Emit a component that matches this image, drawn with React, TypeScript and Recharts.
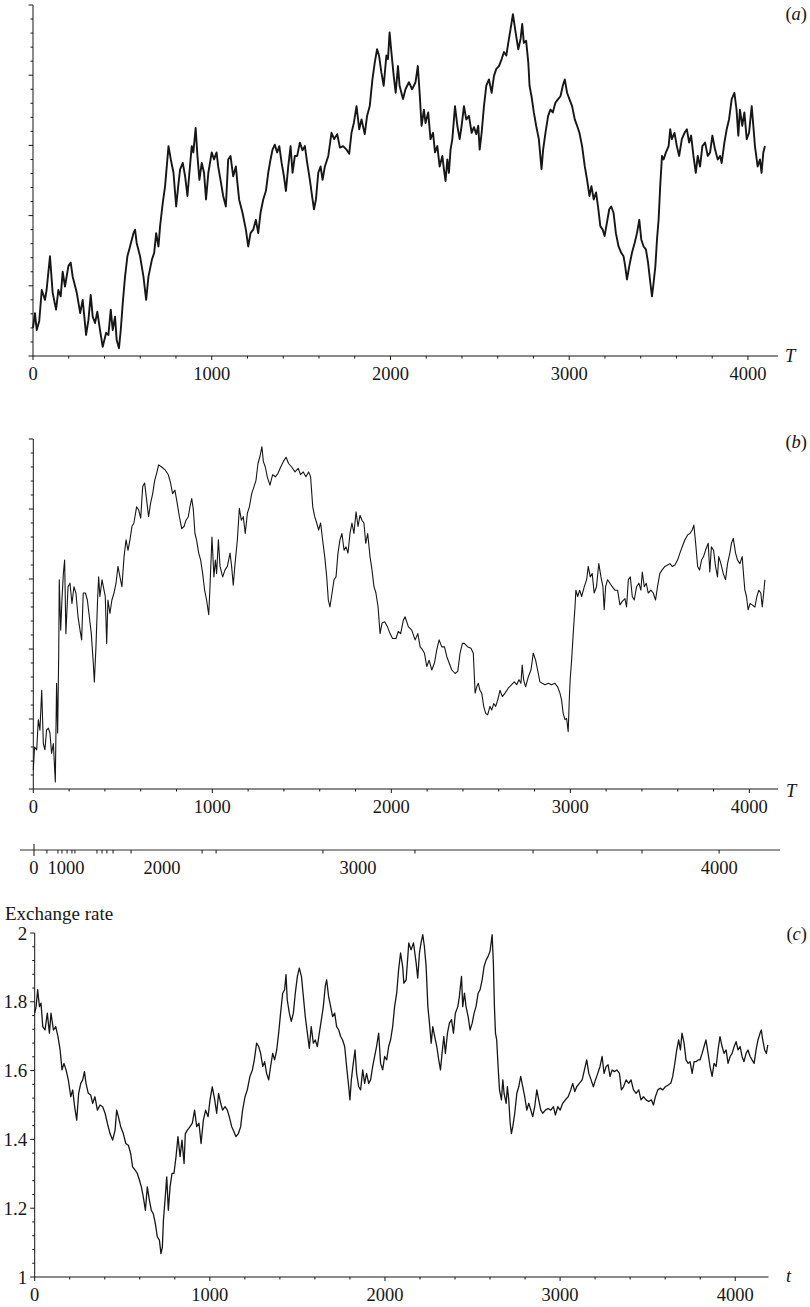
import React from "react";
import { Line, LineChart, XAxis, YAxis } from "recharts";

const SERIF = "'Liberation Serif', 'Times New Roman', serif";
const INK = "#161616";

// (a) time index T and simulated value (no y scale labels in the source, units of major ticks)
const tA = [
  0, 11, 21, 35, 49, 67, 76, 95, 110, 129,
  142, 155, 166, 179, 198, 211, 222, 245, 264, 278,
  297, 310, 323, 334, 347, 360, 375, 390, 409, 422,
  435, 446, 459, 468, 481, 491, 502, 515, 528, 543,
  562, 571, 580, 599, 618, 633, 646, 665, 678, 689,
  702, 711, 726, 739, 758, 771, 786, 801, 814, 823,
  838, 851, 864, 875, 888, 897, 910, 920, 931, 944,
  957, 968, 981, 1000, 1013, 1027, 1036, 1049, 1064, 1079,
  1092, 1105, 1120, 1135, 1142, 1153, 1172, 1191, 1204, 1217,
  1232, 1247, 1260, 1273, 1288, 1303, 1316, 1329, 1340, 1353,
  1366, 1378, 1391, 1404, 1415, 1428, 1441, 1452, 1465, 1478,
  1493, 1508, 1521, 1534, 1549, 1564, 1572, 1583, 1596, 1609,
  1620, 1633, 1652, 1670, 1685, 1702, 1717, 1735, 1754, 1769,
  1782, 1795, 1810, 1825, 1838, 1856, 1869, 1884, 1899, 1912,
  1925, 1936, 1949, 1962, 1977, 1986, 1995, 2005, 2018, 2029,
  2042, 2051, 2070, 2084, 2103, 2121, 2140, 2153, 2163, 2174,
  2187, 2196, 2211, 2224, 2238, 2249, 2262, 2275, 2290, 2299,
  2308, 2318, 2327, 2336, 2346, 2361, 2374, 2387, 2398, 2411,
  2424, 2439, 2454, 2467, 2480, 2491, 2499, 2510, 2523, 2536,
  2551, 2566, 2579, 2592, 2607, 2622, 2635, 2648, 2659, 2672,
  2685, 2700, 2715, 2728, 2737, 2746, 2759, 2771, 2778, 2789,
  2802, 2815, 2830, 2845, 2854, 2867, 2882, 2895, 2908, 2923,
  2938, 2951, 2964, 2975, 2988, 3001, 3016, 3031, 3044, 3057,
  3072, 3087, 3100, 3113, 3124, 3137, 3150, 3161, 3174, 3187,
  3198, 3211, 3224, 3235, 3248, 3261, 3276, 3291, 3304, 3313,
  3323, 3336, 3351, 3366, 3379, 3392, 3403, 3416, 3429, 3441,
  3454, 3463, 3472, 3482, 3491, 3500, 3509, 3519, 3528, 3541,
  3556, 3565, 3574, 3589, 3602, 3615, 3630, 3645, 3658, 3671,
  3682, 3695, 3708, 3719, 3732, 3745, 3760, 3775, 3788, 3801,
  3816, 3831, 3844, 3853, 3868, 3881, 3894, 3909, 3924, 3936,
  3946, 3955, 3968, 3980, 3993, 4006, 4021, 4030, 4039, 4054,
  4067, 4076, 4086, 4095,
];
const yA = [
  0.4, 0.61, 0.37, 0.5, 0.94, 0.8, 0.94, 1.42, 0.9, 0.66,
  0.94, 0.85, 1.2, 0.99, 1.28, 1.33, 1.13, 0.9, 0.61, 0.8,
  0.3, 0.51, 0.87, 0.56, 0.47, 0.63, 0.37, 0.13, 0.33, 0.3,
  0.66, 0.37, 0.56, 0.23, 0.11, 0.37, 0.75, 1.13, 1.42, 1.56,
  1.75, 1.8, 1.61, 1.42, 1.13, 0.8, 1.13, 1.37, 1.47, 1.75,
  1.56, 1.85, 2.18, 2.42, 2.99, 2.8, 2.61, 2.13, 2.46, 2.66,
  2.75, 2.56, 2.28, 2.61, 2.99, 2.9, 3.25, 2.85, 2.51, 2.75,
  2.61, 2.23, 2.61, 2.9, 2.8, 2.9, 2.7, 2.51, 2.28, 2.13,
  2.8, 2.85, 2.56, 2.7, 2.51, 2.23, 2.04, 1.8, 1.56, 1.75,
  1.8, 1.94, 1.75, 2.04, 2.23, 2.35, 2.61, 2.8, 2.94, 3.01,
  2.9, 2.99, 2.75, 2.56, 2.35, 2.7, 2.99, 2.61, 2.85, 2.85,
  3.04, 2.93, 2.99, 2.75, 2.51, 2.23, 2.09, 2.23, 2.61, 2.7,
  2.51, 2.7, 2.85, 3.18, 3.09, 3.16, 2.97, 2.99, 2.94, 2.88,
  3.18, 3.32, 3.56, 3.23, 3.37, 3.16, 3.42, 3.56, 3.94, 4.18,
  4.37, 4.28, 4.04, 3.85, 4.28, 4.23, 4.61, 4.33, 3.99, 3.75,
  4.13, 3.85, 3.66, 3.8, 3.9, 3.8, 3.9, 4.13, 3.75, 3.28,
  3.51, 3.32, 3.47, 3.09, 3.18, 2.9, 2.99, 2.7, 2.85, 2.66,
  2.49, 2.8, 2.61, 2.94, 3.09, 3.56, 3.28, 3.09, 3.28, 3.56,
  3.37, 3.42, 3.18, 3.26, 3.16, 3.28, 2.94, 3.18, 3.56, 3.85,
  3.94, 3.75, 3.99, 4.09, 4.13, 4.23, 4.33, 4.28, 4.46, 4.66,
  4.87, 4.61, 4.37, 4.52, 4.73, 4.46, 4.49, 4.18, 3.85, 3.7,
  3.47, 3.28, 3.09, 2.66, 2.94, 3.18, 3.42, 3.51, 3.47, 3.61,
  3.66, 3.7, 3.85, 3.94, 3.75, 3.66, 3.56, 3.37, 3.28, 3.18,
  2.99, 2.7, 2.51, 2.28, 2.42, 2.23, 2.33, 2.13, 1.85, 1.8,
  1.71, 1.9, 2.09, 2.13, 2.04, 1.75, 1.56, 1.47, 1.42, 1.28,
  1.09, 1.28, 1.47, 1.61, 1.75, 1.94, 1.66, 1.56, 1.52, 1.33,
  1.04, 0.85, 1.04, 1.28, 1.66, 1.94, 2.42, 2.85, 2.8, 2.9,
  2.99, 3.23, 3.09, 3.18, 2.99, 2.85, 3.09, 3.18, 3.23, 3.04,
  3.14, 2.85, 2.61, 2.85, 2.7, 2.99, 3.04, 2.85, 2.9, 3.14,
  2.94, 2.8, 2.85, 2.75, 3.04, 3.23, 3.37, 3.66, 3.75, 3.51,
  3.14, 3.51, 3.28, 3.47, 3.09, 3.18, 3.56, 3.28, 2.99, 2.7,
  2.8, 2.61, 2.9, 2.99,
];

// (b)
const tB = [
  0, 7, 19, 28, 37, 47, 56, 65, 74, 84,
  93, 102, 112, 123, 130, 136, 142, 145, 153, 160,
  168, 175, 182, 194, 205, 216, 227, 238, 250, 261,
  270, 279, 291, 302, 313, 324, 335, 341, 350, 359,
  365, 372, 384, 395, 402, 410, 417, 428, 439, 451,
  462, 473, 484, 495, 507, 518, 529, 540, 551, 562,
  577, 588, 600, 611, 622, 633, 644, 655, 667, 678,
  689, 700, 717, 736, 754, 767, 778, 791, 804, 816,
  829, 842, 853, 866, 875, 885, 894, 903, 912, 924,
  935, 946, 957, 968, 980, 987, 998, 1009, 1017, 1024,
  1034, 1043, 1058, 1071, 1084, 1099, 1108, 1117, 1127, 1140,
  1151, 1162, 1173, 1184, 1196, 1207, 1220, 1233, 1244, 1255,
  1266, 1277, 1285, 1296, 1307, 1322, 1337, 1352, 1367, 1382,
  1397, 1412, 1426, 1443, 1462, 1480, 1493, 1508, 1523, 1538,
  1549, 1561, 1572, 1583, 1594, 1605, 1616, 1628, 1639, 1648,
  1657, 1669, 1680, 1691, 1702, 1713, 1724, 1736, 1747, 1758,
  1769, 1780, 1791, 1803, 1814, 1825, 1836, 1847, 1857, 1868,
  1881, 1892, 1903, 1914, 1926, 1937, 1948, 1963, 1978, 1993,
  2007, 2026, 2039, 2052, 2067, 2077, 2095, 2114, 2133, 2148,
  2161, 2174, 2185, 2198, 2211, 2226, 2241, 2254, 2267, 2282,
  2297, 2310, 2323, 2338, 2356, 2371, 2384, 2397, 2408, 2427,
  2445, 2458, 2468, 2477, 2486, 2495, 2505, 2516, 2527, 2538,
  2551, 2561, 2572, 2583, 2594, 2607, 2620, 2635, 2653, 2672,
  2687, 2700, 2713, 2724, 2731, 2739, 2750, 2765, 2780, 2793,
  2806, 2817, 2830, 2843, 2858, 2877, 2895, 2914, 2929, 2942,
  2951, 2960, 2970, 2979, 2988, 2994, 2999, 3007, 3016, 3026,
  3031, 3041, 3052, 3063, 3078, 3091, 3100, 3111, 3122, 3133,
  3146, 3159, 3171, 3182, 3189, 3197, 3208, 3221, 3234, 3249,
  3264, 3277, 3290, 3305, 3314, 3324, 3335, 3346, 3357, 3370,
  3383, 3394, 3402, 3413, 3424, 3435, 3450, 3463, 3476, 3487,
  3500, 3513, 3528, 3543, 3556, 3569, 3584, 3599, 3612, 3625,
  3640, 3655, 3668, 3681, 3690, 3700, 3711, 3722, 3733, 3744,
  3755, 3770, 3779, 3788, 3800, 3811, 3822, 3829, 3841, 3854,
  3867, 3878, 3891, 3900, 3910, 3923, 3934, 3947, 3960, 3967,
  3975, 3984, 3993, 4004, 4016, 4031, 4042, 4053, 4064, 4072,
  4080, 4087,
];
const yB = [
  0.27, 0.6, 0.56, 0.99, 0.84, 1.41, 0.65, 0.56, 0.84, 0.87,
  0.8, 0.51, 0.65, 0.1, 1.51, 0.8, 1.94, 2.99, 2.27, 2.7,
  3.08, 3.27, 2.22, 2.89, 2.94, 2.65, 2.89, 2.8, 2.46, 2.27,
  2.13, 2.8, 2.8, 2.7, 2.46, 2.22, 1.8, 1.53, 2.03, 2.7,
  3.03, 2.75, 2.99, 2.84, 2.75, 2.08, 2.7, 2.51, 2.7, 2.8,
  2.94, 3.18, 3.03, 2.89, 3.32, 3.56, 3.41, 3.56, 3.75, 3.8,
  4.03, 3.99, 3.87, 4.32, 4.37, 4.13, 3.89, 4.08, 4.22, 4.41,
  4.51, 4.63, 4.6, 4.56, 4.49, 4.37, 4.22, 4.27, 4.08, 3.89,
  3.72, 3.75, 3.84, 3.89, 4.03, 4.15, 3.99, 3.65, 3.56, 3.37,
  3.27, 3.08, 2.84, 2.7, 2.49, 2.89, 3.6, 3.03, 3.27, 3.08,
  3.56, 3.18, 3.03, 3.13, 3.18, 3.37, 3.18, 2.91, 3.22, 3.56,
  4.01, 3.84, 3.89, 3.65, 3.94, 4.03, 4.22, 4.32, 4.41, 4.65,
  4.75, 4.89, 4.68, 4.6, 4.46, 4.34, 4.49, 4.46, 4.51, 4.6,
  4.68, 4.74, 4.65, 4.6, 4.53, 4.58, 4.49, 4.53, 4.46, 4.53,
  4.46, 4.03, 3.89, 3.8, 3.7, 3.8, 3.56, 3.32, 3.03, 2.7,
  2.6, 2.8, 2.99, 3.03, 3.37, 3.56, 3.65, 3.41, 3.46, 3.37,
  3.65, 3.8, 3.65, 3.96, 3.75, 3.91, 3.84, 3.8, 3.51, 3.65,
  3.32, 3.13, 2.89, 2.8, 2.6, 2.22, 2.37, 2.39, 2.32, 2.22,
  2.15, 2.15, 2.25, 2.22, 2.41, 2.46, 2.32, 2.27, 2.13, 2.22,
  2.03, 1.99, 1.94, 1.75, 1.84, 1.7, 1.8, 1.99, 2.13, 2.03,
  2.03, 1.89, 1.8, 1.7, 1.65, 1.68, 1.94, 2.08, 2.08, 2.03,
  2.01, 1.94, 1.37, 1.46, 1.51, 1.41, 1.37, 1.18, 1.08, 1.06,
  1.18, 1.13, 1.22, 1.18, 1.27, 1.41, 1.32, 1.37, 1.44, 1.49,
  1.53, 1.49, 1.56, 1.51, 1.77, 1.56, 1.46, 1.6, 1.7, 1.94,
  1.84, 1.7, 1.53, 1.51, 1.49, 1.51, 1.49, 1.51, 1.46, 1.37,
  1.27, 1.08, 0.99, 1.01, 0.82, 1.27, 1.56, 1.84, 2.22, 2.6,
  2.84, 2.75, 2.84, 2.75, 2.89, 2.99, 3.18, 3.03, 3.08, 2.8,
  2.89, 3.22, 3.03, 2.89, 2.56, 2.89, 2.99, 2.94, 2.89, 2.84,
  2.84, 2.63, 2.68, 2.72, 2.6, 2.99, 3.03, 2.75, 2.7, 2.89,
  2.94, 2.84, 3.1, 2.89, 2.94, 2.8, 2.84, 2.8, 2.7, 2.89,
  3.08, 3.13, 3.18, 3.2, 3.22, 3.18, 3.2, 3.27, 3.37, 3.46,
  3.56, 3.63, 3.65, 3.7, 3.77, 3.51, 3.18, 3.13, 3.27, 3.32,
  3.41, 3.51, 3.1, 3.46, 3.41, 3.18, 3.03, 3.32, 3.22, 3.08,
  2.99, 3.22, 3.37, 3.51, 3.58, 3.37, 3.27, 3.22, 3.32, 3.08,
  2.84, 2.75, 2.56, 2.65, 2.63, 2.6, 2.75, 2.84, 2.8, 2.6,
  2.8, 2.99,
];

// (c) calendar time t and exchange rate
const tC = [
  0, 8, 17, 27, 36, 46, 59, 72, 84, 93,
  107, 120, 133, 145, 156, 167, 179, 192, 206, 217,
  228, 240, 251, 263, 274, 284, 293, 306, 320, 331,
  344, 358, 373, 388, 402, 415, 430, 445, 459, 468,
  478, 491, 506, 520, 535, 548, 559, 573, 586, 598,
  609, 620, 632, 643, 655, 666, 677, 689, 700, 712,
  721, 729, 735, 744, 754, 763, 773, 784, 795, 807,
  818, 830, 841, 853, 860, 872, 887, 900, 913, 925,
  938, 950, 963, 976, 990, 1001, 1014, 1028, 1039, 1050,
  1062, 1073, 1087, 1100, 1111, 1125, 1138, 1149, 1163, 1176,
  1187, 1201, 1214, 1229, 1243, 1254, 1267, 1279, 1290, 1302,
  1313, 1324, 1336, 1347, 1359, 1370, 1382, 1393, 1404, 1416,
  1427, 1435, 1442, 1454, 1465, 1477, 1488, 1500, 1511, 1523,
  1534, 1545, 1557, 1568, 1579, 1591, 1602, 1614, 1625, 1637,
  1648, 1659, 1667, 1678, 1690, 1701, 1713, 1724, 1736, 1747,
  1758, 1770, 1781, 1793, 1800, 1808, 1819, 1829, 1838, 1850,
  1861, 1873, 1884, 1895, 1907, 1918, 1930, 1941, 1952, 1964,
  1975, 1987, 1998, 2010, 2021, 2032, 2044, 2055, 2067, 2078,
  2089, 2101, 2108, 2121, 2136, 2149, 2163, 2178, 2187, 2197,
  2206, 2216, 2225, 2235, 2245, 2254, 2264, 2273, 2284, 2296,
  2307, 2317, 2326, 2336, 2345, 2357, 2368, 2380, 2391, 2402,
  2416, 2425, 2437, 2444, 2454, 2463, 2475, 2486, 2498, 2509,
  2520, 2532, 2543, 2555, 2566, 2578, 2589, 2600, 2612, 2619,
  2625, 2631, 2638, 2646, 2654, 2665, 2673, 2680, 2692, 2699,
  2707, 2715, 2722, 2730, 2741, 2753, 2764, 2775, 2787, 2798,
  2810, 2821, 2833, 2844, 2855, 2867, 2878, 2890, 2901, 2916,
  2931, 2947, 2962, 2973, 2987, 3000, 3015, 3030, 3046, 3061,
  3072, 3084, 3095, 3110, 3126, 3139, 3152, 3164, 3177, 3190,
  3202, 3215, 3228, 3240, 3251, 3263, 3274, 3285, 3297, 3310,
  3324, 3339, 3350, 3362, 3377, 3392, 3405, 3419, 3434, 3449,
  3462, 3476, 3491, 3506, 3521, 3533, 3544, 3558, 3571, 3586,
  3601, 3617, 3632, 3643, 3655, 3666, 3677, 3687, 3696, 3708,
  3719, 3731, 3742, 3754, 3765, 3776, 3788, 3799, 3811, 3822,
  3833, 3845, 3856, 3868, 3879, 3891, 3902, 3913, 3925, 3936,
  3948, 3959, 3971, 3982, 3994, 4005, 4016, 4028, 4039, 4050,
  4062, 4073, 4085, 4096, 4108, 4119, 4130, 4142, 4149, 4157,
  4168, 4178, 4186,
];
const rateC = [
  1.767, 1.786, 1.835, 1.786, 1.796, 1.728, 1.718, 1.767, 1.709, 1.767,
  1.718, 1.728, 1.699, 1.66, 1.602, 1.621, 1.602, 1.573, 1.524, 1.544,
  1.495, 1.456, 1.534, 1.563, 1.573, 1.597, 1.563, 1.534, 1.529, 1.505,
  1.524, 1.485, 1.5, 1.495, 1.476, 1.447, 1.417, 1.398, 1.427, 1.485,
  1.466, 1.437, 1.417, 1.388, 1.383, 1.359, 1.32, 1.311, 1.301, 1.282,
  1.262, 1.233, 1.194, 1.262, 1.223, 1.194, 1.184, 1.155, 1.117, 1.107,
  1.068, 1.087, 1.165, 1.223, 1.291, 1.194, 1.262, 1.301, 1.301, 1.35,
  1.408, 1.35, 1.398, 1.33, 1.417, 1.427, 1.437, 1.447, 1.485, 1.437,
  1.447, 1.388, 1.456, 1.485, 1.466, 1.515, 1.553, 1.515, 1.476, 1.534,
  1.505, 1.485, 1.495, 1.485, 1.466, 1.437, 1.422, 1.408, 1.417, 1.437,
  1.485, 1.524, 1.544, 1.583, 1.602, 1.631, 1.68, 1.67, 1.65, 1.612,
  1.626, 1.592, 1.573, 1.612, 1.65, 1.631, 1.66, 1.709, 1.767, 1.825,
  1.835, 1.879, 1.806, 1.767, 1.743, 1.767, 1.825, 1.874, 1.898, 1.874,
  1.816, 1.757, 1.709, 1.665, 1.728, 1.68, 1.689, 1.67, 1.709, 1.748,
  1.786, 1.845, 1.864, 1.816, 1.786, 1.757, 1.767, 1.728, 1.718, 1.699,
  1.689, 1.67, 1.612, 1.553, 1.515, 1.573, 1.621, 1.66, 1.592, 1.553,
  1.544, 1.602, 1.563, 1.592, 1.563, 1.573, 1.612, 1.641, 1.67, 1.709,
  1.621, 1.602, 1.641, 1.631, 1.67, 1.689, 1.728, 1.786, 1.825, 1.893,
  1.942, 1.903, 1.854, 1.864, 1.971, 1.951, 1.971, 1.913, 1.869, 1.942,
  1.971, 1.995, 1.961, 1.903, 1.786, 1.738, 1.68, 1.728, 1.699, 1.67,
  1.631, 1.602, 1.65, 1.699, 1.65, 1.709, 1.738, 1.748, 1.709, 1.767,
  1.786, 1.816, 1.874, 1.786, 1.825, 1.786, 1.757, 1.718, 1.738, 1.767,
  1.786, 1.825, 1.835, 1.864, 1.903, 1.922, 1.932, 1.947, 1.995, 1.913,
  1.786, 1.709, 1.689, 1.612, 1.544, 1.515, 1.573, 1.534, 1.505, 1.553,
  1.515, 1.447, 1.417, 1.437, 1.476, 1.534, 1.553, 1.583, 1.553, 1.524,
  1.485, 1.505, 1.485, 1.466, 1.495, 1.544, 1.515, 1.485, 1.476, 1.485,
  1.49, 1.485, 1.495, 1.471, 1.495, 1.485, 1.505, 1.515, 1.524, 1.544,
  1.563, 1.539, 1.553, 1.563, 1.573, 1.602, 1.631, 1.592, 1.573, 1.553,
  1.573, 1.592, 1.612, 1.641, 1.592, 1.612, 1.617, 1.583, 1.602, 1.597,
  1.602, 1.592, 1.544, 1.553, 1.573, 1.563, 1.573, 1.544, 1.534, 1.544,
  1.515, 1.524, 1.515, 1.51, 1.515, 1.5, 1.524, 1.544, 1.549, 1.544,
  1.553, 1.558, 1.563, 1.583, 1.621, 1.66, 1.689, 1.66, 1.709, 1.68,
  1.631, 1.621, 1.626, 1.592, 1.626, 1.626, 1.631, 1.631, 1.65, 1.67,
  1.689, 1.65, 1.612, 1.583, 1.621, 1.612, 1.66, 1.699, 1.67, 1.65,
  1.66, 1.621, 1.641, 1.65, 1.67, 1.684, 1.66, 1.67, 1.641, 1.626,
  1.65, 1.66, 1.641, 1.631, 1.621, 1.66, 1.689, 1.709, 1.718, 1.689,
  1.66, 1.65, 1.675,
];

// strip between (b) and (c): where T = 0..4000 falls on the calendar axis t
const stripLabelAt = [0, 183, 732, 1852, 3917];
const stripLabels = ["0", "1000", "2000", "3000", "4000"];
const stripMarks = [74, 137, 160, 189, 217, 234, 360, 389, 417, 452, 555, 961, 1041, 1652, 2178, 2853, 3219, 3476, 3917];

const yMajorAB = [0, 1, 2, 3, 4, 5];
const xMajor = [0, 1000, 2000, 3000, 4000];
const yMajorC = [1, 1.2, 1.4, 1.6, 1.8, 2];

const range = (a: number, b: number, s: number) =>
  Array.from({ length: Math.round((b - a) / s) + 1 }, (_, i) => Math.round((a + i * s) * 1000) / 1000);

const bottomTick = (major: number[]) => (props: any) => {
  const { x, y, payload } = props;
  const isMajor = major.includes(payload.value);
  return (
    <g>
      <line x1={x} x2={x} y1={y} y2={y + (isMajor ? 4 : 2.5)} stroke={INK} strokeWidth={1} />
      {isMajor ? (
        <text x={x} y={y + 24} textAnchor="middle" fontFamily={SERIF} fontSize={18.5} fill={INK}>
          {payload.value}
        </text>
      ) : null}
    </g>
  );
};

const leftTick = (major: number[], withLabels: boolean) => (props: any) => {
  const { x, y, payload } = props;
  const isMajor = major.includes(payload.value);
  return (
    <g>
      <line x1={x - (isMajor ? 4.5 : 2.5)} x2={x} y1={y} y2={y} stroke={INK} strokeWidth={1} />
      {withLabels && isMajor ? (
        <text x={x - 7.5} y={y + 6.5} textAnchor="end" fontFamily={SERIF} fontSize={19} fill={INK}>
          {payload.value}
        </text>
      ) : null}
    </g>
  );
};

const stripTick = (props: any) => {
  const { x, y, payload } = props;
  const li = stripLabelAt.indexOf(payload.value);
  const isZero = payload.value === 0;
  const marked = isZero || stripMarks.includes(payload.value);
  return (
    <g>
      {marked ? <line x1={x} x2={x} y1={isZero ? y - 6 : y} y2={y + (isZero ? 6 : 3.5)} stroke={INK} strokeWidth={1} /> : null}
      {li >= 0 ? (
        <text x={x} y={y + 24} textAnchor="middle" fontFamily={SERIF} fontSize={18.5} fill={INK}>
          {stripLabels[li]}
        </text>
      ) : null}
    </g>
  );
};

type PanelProps = {
  top: number;
  height: number;
  margin: { top: number; right: number; bottom: number; left: number };
  xs: number[];
  ys: number[];
  xMax: number;
  yDomain: [number, number];
  yTicks: number[];
  yMajor: number[];
  yLabels: boolean;
  strokeWidth: number;
};

function Panel({ top, height, margin, xs, ys, xMax, yDomain, yTicks, yMajor, yLabels, strokeWidth }: PanelProps) {
  const data = xs.map((x, i) => ({ x, v: ys[i] }));
  return (
    <div style={{ position: "absolute", left: 0, top }}>
      <LineChart width={810} height={height} data={data} margin={margin}>
        <XAxis
          dataKey="x"
          type="number"
          domain={[0, xMax]}
          ticks={range(0, 4000, 200)}
          interval={0}
          height={30}
          tickSize={0}
          tickMargin={0}
          tickLine={false}
          axisLine={{ stroke: INK, strokeWidth: 1 }}
          tick={bottomTick(xMajor)}
        />
        <YAxis
          type="number"
          domain={yDomain}
          ticks={yTicks}
          interval={0}
          width={30}
          tickSize={0}
          tickMargin={0}
          tickLine={false}
          axisLine={{ stroke: INK, strokeWidth: 1 }}
          tick={leftTick(yMajor, yLabels)}
        />
        <Line
          dataKey="v"
          type="linear"
          dot={false}
          activeDot={false}
          stroke={INK}
          strokeWidth={strokeWidth}
          strokeLinejoin="round"
          isAnimationActive={false}
        />
      </LineChart>
    </div>
  );
}

const textStyle = (left: number | undefined, top: number, size = 18.5): React.CSSProperties => ({
  position: "absolute",
  top,
  ...(left === undefined ? { right: 3 } : { left }),
  fontFamily: SERIF,
  fontSize: size,
  lineHeight: 1,
  color: INK,
  whiteSpace: "nowrap",
});

export default function App() {
  const stripTicks = Array.from(new Set([...stripLabelAt, ...stripMarks])).sort((a, b) => a - b);
  return (
    <div style={{ position: "absolute", left: 0, top: 0, width: 810, height: 1307, background: "#fff" }}>
      <Panel
        top={0}
        height={400}
        margin={{ top: 5, right: 32, bottom: 14, left: 3 }}
        xs={tA}
        ys={yA}
        xMax={4168}
        yDomain={[0, 5]}
        yTicks={range(0, 5, 0.2)}
        yMajor={yMajorAB}
        yLabels={false}
        strokeWidth={1.9}
      />
      <div style={textStyle(undefined, 4.5)}>
        (<i>a</i>)
      </div>
      <div style={textStyle(785, 346.5)}>
        <i>T</i>
      </div>

      <Panel
        top={400}
        height={430}
        margin={{ top: 39, right: 32, bottom: 11, left: 3.3 }}
        xs={tB}
        ys={yB}
        xMax={4160}
        yDomain={[0, 5]}
        yTicks={range(0, 5, 0.2)}
        yMajor={yMajorAB}
        yLabels={false}
        strokeWidth={1.1}
      />
      <div style={textStyle(undefined, 432.5)}>
        (<i>b</i>)
      </div>
      <div style={textStyle(786, 781.5)}>
        <i>T</i>
      </div>

      <div style={{ position: "absolute", left: 0, top: 830 }}>
        <LineChart width={810} height={50} data={stripTicks.map((t) => ({ t }))} margin={{ top: 15, right: 30, bottom: 0, left: 20 }}>
          <XAxis
            dataKey="t"
            type="number"
            domain={[-80, 4265]}
            ticks={stripTicks}
            interval={0}
            height={30}
            tickSize={0}
            tickMargin={0}
            tickLine={false}
            axisLine={{ stroke: "#333", strokeWidth: 1 }}
            tick={stripTick}
          />
          <YAxis hide />
        </LineChart>
      </div>

      <div style={textStyle(5, 903.5, 19)}>Exchange rate</div>
      <Panel
        top={880}
        height={427}
        margin={{ top: 53, right: 41.5, bottom: 0, left: 4.7 }}
        xs={tC}
        ys={rateC}
        xMax={4190}
        yDomain={[1, 2]}
        yTicks={range(1, 2, 0.04)}
        yMajor={yMajorC}
        yLabels={true}
        strokeWidth={1.3}
      />
      <div style={textStyle(undefined, 924.5)}>
        (<i>c</i>)
      </div>
      <div style={textStyle(786, 1266.5)}>
        <i>t</i>
      </div>
    </div>
  );
}
